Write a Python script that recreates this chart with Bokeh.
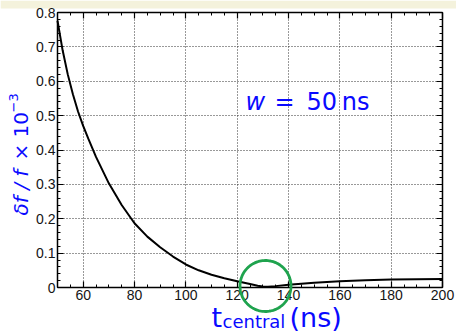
import numpy as np
from bokeh.plotting import figure
from bokeh.models import (LinearAxis, SingleIntervalTicker, Label, PolyAnnotation,
                          BoxAnnotation, Range1d)
from bokeh.embed import file_html
from bokeh.resources import INLINE

# ---- data ----
t_central = [50, 52, 54, 56, 58, 60, 62, 65, 70, 75, 80, 85, 90, 95, 100, 105,
             110, 115, 120, 125, 128, 130, 132, 135, 140, 145, 150, 160, 170,
             180, 190, 200]
df_over_f = [0.776, 0.690, 0.620, 0.562, 0.512, 0.470, 0.433, 0.380, 0.303,
             0.240, 0.187, 0.148, 0.117, 0.090, 0.067, 0.050, 0.037, 0.027,
             0.018, 0.010, 0.005, 0.003, 0.002, 0.004, 0.008, 0.011, 0.014,
             0.018, 0.021, 0.023, 0.024, 0.025]
x_major_step = 20
y_major_step = 0.1
annotation_text = "50\u2009ns"

# ---- layout constants ----
W, H = 456, 331
X0, X1 = 50, 200          # plotted data window
Y0, Y1 = 0.0, 0.8
FL, FR, FT, FB = 57, 442, 12, 287   # pixel box of the data window
BLUE = "#0a0aff"
GREEN = "#1fa34e"
TICK_FONT = "Liberation Sans"
TXT_FONT = "DejaVu Sans"

sx = (X1 - X0) / (FR - FL)
sy = (Y1 - Y0) / (FB - FT)
# the frame covers the whole canvas; axes are fixed at the data window edges
xr = Range1d(X0 - FL * sx, X1 + (W - FR) * sx)
yr = Range1d(Y0 - (H - FB) * sy, Y1 + FT * sy)

p = figure(width=W, height=H, x_range=xr, y_range=yr, output_backend="svg",
           toolbar_location=None, min_border=0,
           x_axis_location=None, y_axis_location=None)
p.background_fill_color = "white"
p.border_fill_color = "white"
p.outline_line_color = None

# beige strip at the very top of the slide
p.add_layout(BoxAnnotation(bottom=Y1 + (FT - 8) * sy, fill_color="#f4f2dc",
                           fill_alpha=1, line_color=None, level="underlay"))

xt = SingleIntervalTicker(interval=x_major_step, num_minor_ticks=4)
yt = SingleIntervalTicker(interval=y_major_step, num_minor_ticks=5)
eps_x, eps_y = 1e-6, 1e-6


def make_axis(ticker, loc, bounds, labels=True):
    ax = LinearAxis(ticker=ticker, fixed_location=loc, bounds=bounds)
    ax.axis_line_color = "black"
    ax.axis_line_width = 1.5
    ax.major_tick_in = 6
    ax.major_tick_out = 0
    ax.minor_tick_in = 3
    ax.minor_tick_out = 0
    ax.major_tick_line_color = "black"
    ax.minor_tick_line_color = "black"
    ax.major_tick_line_width = 1.2
    ax.minor_tick_line_width = 1.0
    if labels:
        ax.major_label_text_font = TICK_FONT
        ax.major_label_text_font_size = "14px"
        ax.major_label_text_color = "#151515"
        ax.major_label_standoff = 2
    else:
        ax.major_label_text_font_size = "1px"
        ax.major_label_text_color = None
        ax.major_label_standoff = 0
    return ax


xb = (X0 - eps_x, X1 + eps_x)
yb = (Y0 - eps_y, Y1 + eps_y)
bottom = make_axis(xt, Y0, xb)
left = make_axis(yt, X0, yb)
left.major_label_overrides = {0: "0"}
top = make_axis(xt, Y1, xb, labels=False)
right = make_axis(yt, X1, yb, labels=False)
p.add_layout(bottom, "below")
p.add_layout(left, "left")
p.add_layout(top, "above")
p.add_layout(right, "right")

for g in (p.xgrid[0], p.ygrid[0]):
    g.grid_line_color = "#333333"
    g.grid_line_dash = "1 2"
    g.grid_line_width = 1
p.xgrid[0].ticker = xt
p.xgrid[0].bounds = xb
p.xgrid[0].cross_bounds = (Y0, Y1)
p.ygrid[0].ticker = yt
p.ygrid[0].bounds = yb
p.ygrid[0].cross_bounds = (X0, X1)

p.line(t_central, df_over_f, line_color="black", line_width=2)

# green circle around the minimum (canvas pixels)
ccx, ccy, r = 265, 285.5, 25.5
ang = np.linspace(0, 2 * np.pi, 120)
p.add_layout(PolyAnnotation(xs=list(ccx + r * np.cos(ang)),
                            ys=list(ccy + r * np.sin(ang)),
                            xs_units="canvas", ys_units="canvas",
                            fill_alpha=0, line_color=GREEN, line_alpha=1,
                            line_width=2.8))


def lab(text, px, py, size, style="normal", angle=0, align="left",
        baseline="middle", font=TXT_FONT):
    p.add_layout(Label(x=px, y=py, x_units="canvas", y_units="canvas",
                       text=text, text_font=font,
                       text_font_size=f"{size}px", text_font_style=style,
                       text_color=BLUE, angle=angle, text_align=align,
                       text_baseline=baseline))


# annotation w = 50 ns  (y = vertical middle of the text line)
lab("w", 245, 101, 24, style="italic")
lab("=", 274, 101, 24)
lab(annotation_text, 306, 101, 24)

# x axis title: t_central (ns)
lab("t", 211, 316.5, 27)
lab("central", 222, 321, 18)
lab("(ns)", 289, 316.5, 27)

# y axis title: δf / f × 10^-3
lab("δf / f", 20, 215, 20, style="italic", angle=np.pi / 2)
lab("× 10", 20, 160, 20, angle=np.pi / 2)
lab("−3", 13, 112, 13, angle=np.pi / 2)

open("out.html", "w").write(file_html(p, INLINE))
